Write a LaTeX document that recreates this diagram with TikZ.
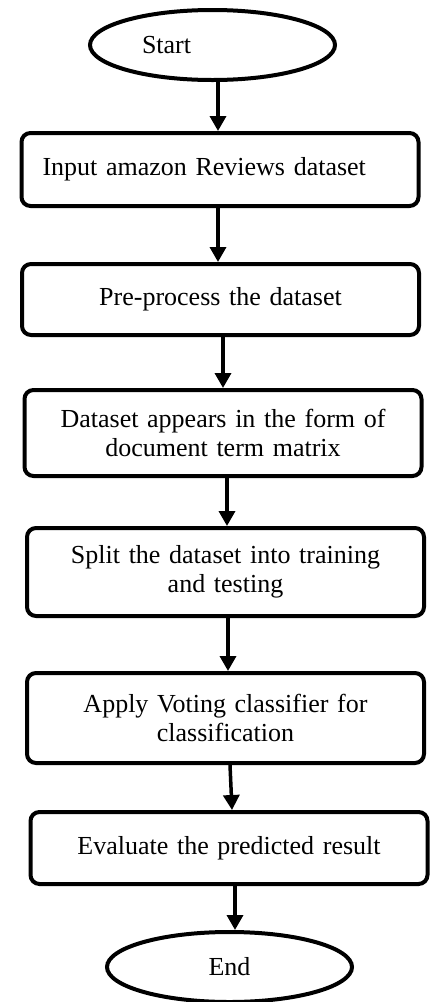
\documentclass[tikz,border=0pt]{standalone}
\usepackage{fontspec}
\setmainfont{Liberation Serif}
\usetikzlibrary{shapes.geometric,arrows.meta}

\begin{document}
\begin{tikzpicture}[x=1pt, y=-1pt,
    every node/.style={font=\fontsize{26}{29}\selectfont},
    terminal/.style={draw, ellipse, line width=4pt, minimum width=245pt, minimum height=70pt},
    process/.style={draw, rectangle, rounded corners=9pt, line width=4pt,
        minimum width=397pt, text width=355pt, inner xsep=21pt, align=center},
    flow/.style={line width=3.5pt, -{Triangle[width=16pt,length=15pt]}}]
  \useasboundingbox (0,0) rectangle (429,1002);

  \node (start) [terminal, text width=141pt, align=left] at (212.5,45) {Start};
  \node (input) [process, minimum height=73pt, align=left] at (220,169.5) {Input amazon Reviews dataset};
  \node (prep) [process, minimum height=71pt] at (220.5,299.5) {Pre-process the dataset};
  \node (dtm) [process, minimum height=86pt] at (223,433) {Dataset appears in the form of\\ document term matrix};
  \node (split) [process, minimum height=88pt] at (225.5,572) {Split the dataset into training\\ and testing};
  \node (vote) [process, minimum height=90pt] at (225.5,718) {Apply Voting classifier for\\ classification};
  \node (eval) [process, minimum height=72pt] at (229,848) {Evaluate the predicted result};
  \node (end) [terminal] at (229.5,967) {End};

  \draw[flow] ([xshift=5.5pt]start.south) -- ([xshift=-2pt]input.north);
  \draw[flow] ([xshift=-2pt]input.south) -- ([xshift=-2.5pt]prep.north);
  \draw[flow] ([xshift=2.5pt]prep.south) -- (dtm.north);
  \draw[flow] ([xshift=4pt]dtm.south) -- ([xshift=1.5pt]split.north);
  \draw[flow] ([xshift=2.5pt]split.south) -- ([xshift=2.5pt]vote.north);
  \draw[flow] ([xshift=4.5pt]vote.south) -- ([xshift=3pt]eval.north);
  \draw[flow] ([xshift=6pt]eval.south) -- ([xshift=5.5pt]end.north);
\end{tikzpicture}
\end{document}
